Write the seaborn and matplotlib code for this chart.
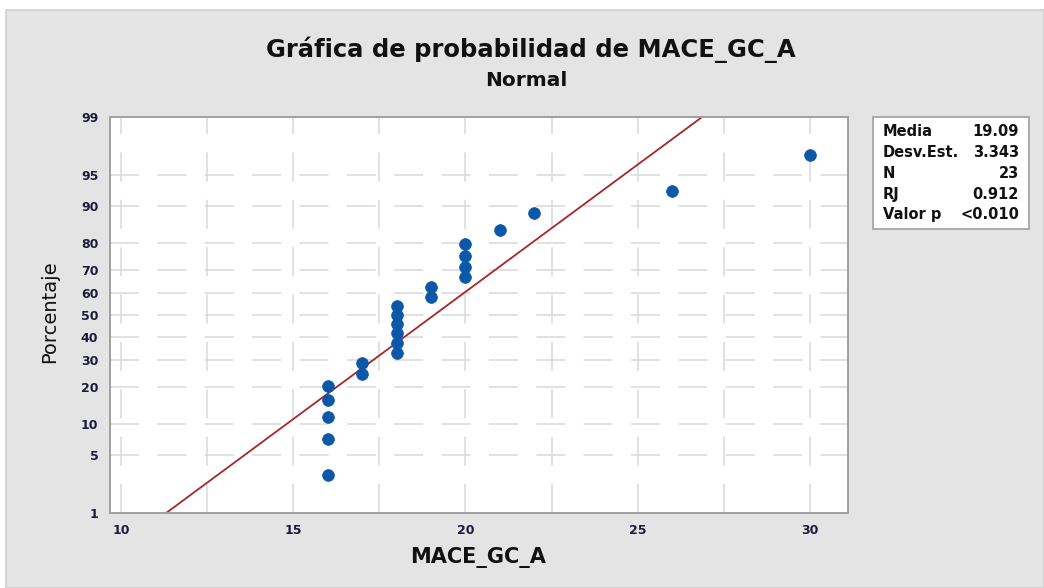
import matplotlib
matplotlib.use("Agg")
import matplotlib.pyplot as plt
import seaborn as sns
import pandas as pd
from statistics import NormalDist
from matplotlib.patches import Rectangle

# --- Datos ---
valores = [16, 16, 16, 16, 16, 17, 17, 18, 18, 18, 18, 18, 18,
           19, 19, 20, 20, 20, 20, 21, 22, 26, 30]
porcentajes = [3.0, 7.3, 11.5, 15.8, 20.1, 24.4, 28.6, 32.9, 37.2, 41.5, 45.7, 50.0,
               54.3, 58.5, 62.8, 67.1, 71.4, 75.6, 79.9, 84.2, 88.5, 92.7, 97.0]
y_ticks = [1, 5, 10, 20, 30, 40, 50, 60, 70, 80, 90, 95, 99]
x_ticks = [10, 15, 20, 25, 30]
x_grid = [10, 12.5, 15, 17.5, 20, 22.5, 25, 27.5, 30]

media = 19.09
desv_est = 3.343
n = 23
rj = 0.912
valor_p = "<0.010"

nd = NormalDist()
def z(p):
    return nd.inv_cdf(p / 100.0)

df = pd.DataFrame({"MACE_GC_A": valores, "z": [z(p) for p in porcentajes]})

sns.set_style("white")
plt.rcParams['font.family'] = ['DejaVu Sans']

fig = plt.figure(figsize=(10.44, 5.88), dpi=100)
fig.patches.append(Rectangle((6 / 1044, 0), 1 - 6 / 1044, 1 - 10 / 588, transform=fig.transFigure,
                             facecolor="#e4e4e4", edgecolor="#cfcfcf", linewidth=1.2, zorder=-5))

ax = fig.add_axes([109.5 / 1044, 1 - 513 / 588, (848 - 109.5) / 1044, (513 - 117) / 588])
ax.set_facecolor("white")

grid_kw = dict(color="#d9d9d9", linewidth=1.1, linestyle=(0, (19, 12)), zorder=1)
for gx in x_grid:
    ax.axvline(gx, **grid_kw)
for yt in y_ticks[1:-1]:
    ax.axhline(z(yt), **grid_kw)

# línea ajustada
zl = [z(1), z(99)]
ax.plot([media + desv_est * v for v in zl], zl, color="#a82628", linewidth=1.3, zorder=2)

sns.scatterplot(data=df, x="MACE_GC_A", y="z", ax=ax, marker="o", s=72,
                color="#0b57a8", edgecolor="#0b57a8", linewidth=0.5, zorder=3)

ax.set_xlim(9.67, 31.1)
ax.set_ylim(z(1), z(99))
ax.set_xticks(x_ticks)
ax.set_xticklabels([str(t) for t in x_ticks])
ax.set_yticks([z(t) for t in y_ticks])
ax.set_yticklabels([str(t) for t in y_ticks])
ax.tick_params(axis="both", which="major", length=5, width=1.2, color="#9a9a9a",
               labelsize=9, labelcolor="#1c1c3a", pad=3)
for lab in ax.get_xticklabels() + ax.get_yticklabels():
    lab.set_fontweight("bold")
for sp in ax.spines.values():
    sp.set_color("#a0a0a0")
    sp.set_linewidth(1.4)

ax.set_xlabel("")
ax.set_ylabel("")
fig.text(478 / 1044, 1 - 558 / 588, "MACE_GC_A", ha="center", va="center", fontsize=15,
         fontweight="bold", color="#111111")
fig.text(50 / 1044, 1 - 312 / 588, "Porcentaje", ha="center", va="center", rotation=90,
         fontsize=14, color="#111111")

fig.text(531 / 1044, 1 - 50 / 588, "Gráfica de probabilidad de MACE_GC_A", ha="center", va="center",
         fontsize=17.5, fontweight="bold", color="#111111")
fig.text(526 / 1044, 1 - 80 / 588, "Normal", ha="center", va="center", fontsize=14.5,
         fontweight="bold", color="#111111")

# cuadro de estadísticos
fig.patches.append(Rectangle((873 / 1044, 1 - 229 / 588), 156 / 1044, 112 / 588, transform=fig.transFigure,
                             facecolor="white", edgecolor="#a0a0a0", linewidth=1.2, zorder=1))
etiquetas = ["Media", "Desv.Est.", "N", "RJ", "Valor p"]
valores_txt = [f"{media:.2f}", f"{desv_est:.3f}", str(n), f"{rj:.3f}", valor_p]
for i, (et, vt) in enumerate(zip(etiquetas, valores_txt)):
    yy = 1 - (132 + i * 20.7) / 588
    fig.text(883 / 1044, yy, et, ha="left", va="center", fontsize=10.5, fontweight="bold",
             color="#111111")
    fig.text(1019 / 1044, yy, vt, ha="right", va="center", fontsize=10.5, fontweight="bold",
             color="#111111")

fig.savefig("out.png", dpi=100)
